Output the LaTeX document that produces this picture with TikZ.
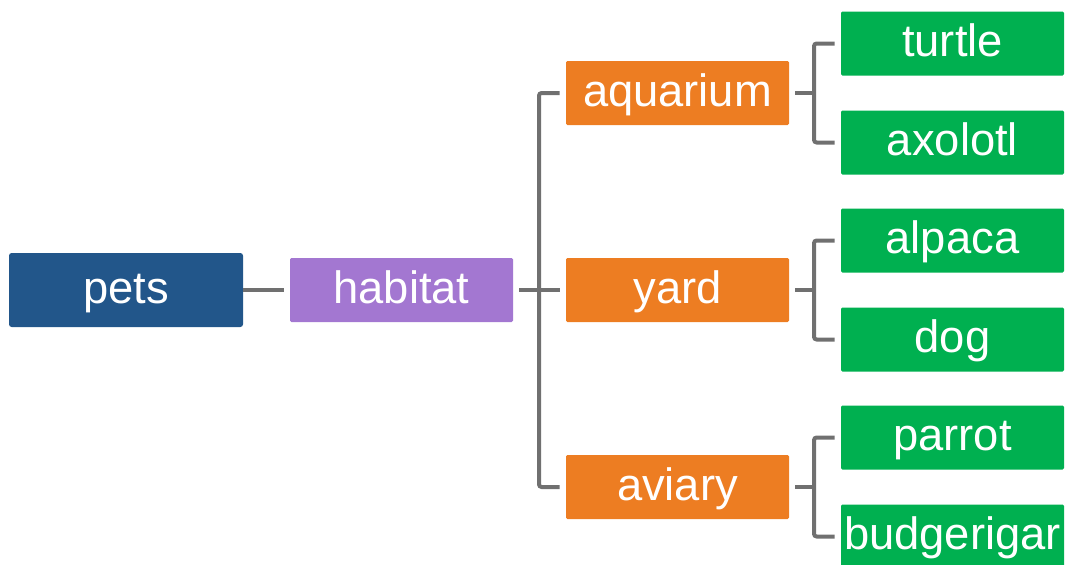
\documentclass[tikz,border=0pt]{standalone}
\usepackage{fontspec}
\setmainfont{Liberation Sans}
\usepackage{tikz}
\definecolor{petblue}{HTML}{22568A}
\definecolor{habpurple}{HTML}{A377D1}
\definecolor{placeorange}{HTML}{ED7D22}
\definecolor{animalgreen}{HTML}{00B050}
\definecolor{linkgray}{HTML}{707070}
\tikzset{box/.style = {text = white, inner sep = 0pt, minimum width = 167.25pt, minimum height = 48pt, text height = 26pt, text depth = 6pt, font = \fontsize{34}{40}\selectfont, rounded corners = 1pt}}
\tikzset{link/.style = {linkgray, line width = 3pt, rounded corners = 2pt}}

\begin{document}
\begin{tikzpicture}[x = 0.75pt, y = -0.75pt]
    \useasboundingbox (0, 0) rectangle (1066, 564);
    \node [box, fill = petblue, minimum width = 175.5pt, minimum height = 55.5pt, rounded corners = 2pt] (pets) at (126, 290) {pets};
    \node [box, fill = habpurple] (habitat) at (401.5, 290) {habitat};
    \coordinate (hj) at (539, 290);
    \draw [link, shorten >= 4.5pt] (pets) -- (habitat);
    \foreach \y\i in {93/aquarium, 290/yard, 487/aviary} {
        \node [box, fill = placeorange] (\i) at (677.5, \y) {\i};
    }
    \draw [link, shorten <= 4.5pt, shorten >= 4.5pt] (habitat) -- (yard);
    \draw [link, shorten <= 4.5pt, shorten >= 4.5pt] (aquarium.west) -| (hj) |- (aviary.west);
    \foreach \y\a\b\i in {93/turtle/axolotl/aquarium, 290/alpaca/dog/yard, 487/parrot/budgerigar/aviary} {
        \node [box, fill = animalgreen] (\a) at (952.5, \y - 49.5) {\a};
        \node [box, fill = animalgreen] (\b) at (952.5, \y + 49.5) {\b};
        \coordinate (j\i) at (814, \y);
        \draw [link, shorten <= 4.5pt] (\i) -- (j\i);
        \draw [link, shorten <= 4.5pt, shorten >= 4.5pt] (\a.west) -| (j\i) |- (\b.west);
    }
\end{tikzpicture}
\end{document}
